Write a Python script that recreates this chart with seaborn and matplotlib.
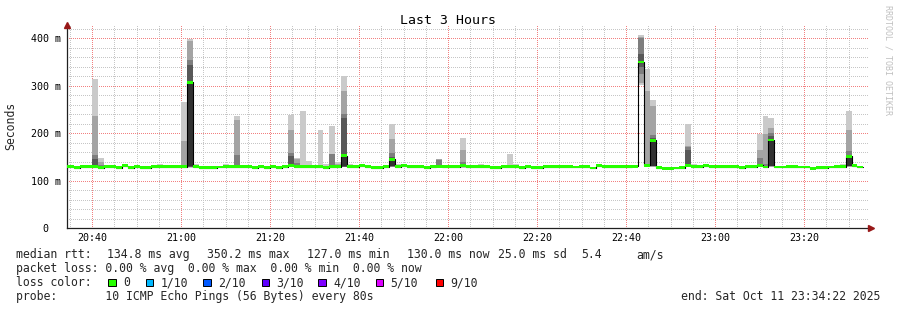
import numpy as np
import pandas as pd
import matplotlib
matplotlib.use("Agg")
import matplotlib.pyplot as plt
from matplotlib.patches import Rectangle
import seaborn as sns

# ---------------- data ----------------
bin_start = "2025-10-11 20:33:20"   # first 80 s bin
bin_seconds = 80
median_ms = [
    130, 130, 128, 130, 130,                                   # 20:33:20 ..
    130, 128, 130, 130, 128, 132, 128, 130, 128, 128,          # 20:40:00 ..
    130, 130, 130, 130, 130, 130, 307, 130, 128, 128,
    128, 129, 130, 130, 130, 130, 130, 128, 130, 128,
    130, 128, 130, 133, 130, 130, 130, 130, 130, 128,          # 21:20:00 ..
    130, 130, 153, 130, 130, 132, 130, 128, 128, 130,
    145, 130, 132, 130, 130, 130, 128, 130, 131, 130,
    130, 130, 132, 130,
    130, 130, 130, 128, 128, 130, 130, 130, 128, 130,          # 22:05:20 ..
    128, 128, 130, 130, 130, 130, 130, 129, 130, 130,
    127, 132, 130, 130, 130, 130, 130, 131, 350, 133,
    185, 128, 126,
    126, 127, 128, 133, 130, 130, 132, 130, 130, 130,          # 22:49:20 ..
    130, 130, 128, 130, 130, 133, 129, 186, 129, 129,
    130, 130, 129, 129, 126, 128, 128, 129, 130, 130,
    152, 132, 129,
]

smoke_time = [
    "20:40:00", "20:41:20", "20:54:40", "21:00:00", "21:01:20", "21:02:40",
    "21:09:20", "21:12:00", "21:24:00", "21:25:20", "21:26:40", "21:28:00",
    "21:30:40", "21:32:00", "21:33:20", "21:34:40", "21:36:00", "21:37:20",
    "21:46:40", "21:48:00", "21:57:20", "22:02:40", "22:06:40", "22:13:20",
    "22:14:40", "22:42:40", "22:44:00", "22:45:20", "22:53:20", "22:54:40",
    "23:09:20", "23:10:40", "23:12:00", "23:28:00", "23:29:20",
]
smoke_pings = [
    [128, 129, 129, 130, 130, 131, 145, 154, 236, 314],
    [128, 129, 129, 130, 130, 130, 131, 133, 140, 148],
    [129, 130, 130, 130, 130, 130, 130, 131, 132, 135],
    [128, 129, 129, 130, 130, 130, 131, 132, 184, 266],
    [128, 129, 129, 130, 131, 307, 343, 354, 394, 398],
    [129, 130, 130, 130, 130, 130, 130, 131, 132, 135],
    [129, 130, 130, 130, 130, 130, 130, 131, 132, 136],
    [128, 129, 129, 130, 130, 131, 132, 154, 229, 236],
    [129, 130, 130, 131, 132, 133, 153, 158, 208, 239],
    [128, 129, 129, 130, 130, 130, 134, 137, 145, 148],
    [129, 130, 130, 130, 130, 130, 131, 132, 134, 248],
    [129, 130, 130, 130, 130, 130, 130, 131, 133, 141],
    [129, 130, 130, 130, 130, 130, 130, 131, 132, 208],
    [128, 129, 129, 129, 129, 129, 130, 130, 131, 135],
    [129, 130, 130, 130, 130, 130, 131, 156, 157, 215],
    [129, 130, 130, 130, 130, 130, 131, 132, 136, 139],
    [129, 130, 130, 130, 131, 153, 233, 241, 290, 320],
    [129, 130, 130, 130, 130, 130, 130, 131, 132, 135],
    [129, 130, 130, 131, 132, 145, 150, 158, 187, 220],
    [129, 130, 130, 130, 130, 130, 130, 131, 132, 135],
    [129, 130, 130, 130, 130, 131, 132, 144, 145, 146],
    [128, 129, 129, 130, 131, 132, 134, 140, 164, 190],
    [129, 130, 130, 130, 130, 130, 130, 131, 132, 135],
    [129, 130, 130, 130, 130, 130, 130, 131, 133, 156],
    [128, 129, 129, 130, 130, 130, 130, 131, 132, 135],
    [302, 306, 325, 340, 348, 350, 368, 400, 403, 407],
    [129, 130, 131, 131, 132, 133, 135, 136, 289, 335],
    [129, 130, 131, 131, 132, 185, 190, 196, 257, 271],
    [129, 130, 130, 131, 132, 133, 164, 172, 173, 219],
    [129, 130, 130, 130, 130, 130, 130, 131, 132, 135],
    [129, 130, 130, 131, 132, 133, 135, 148, 164, 198],
    [128, 129, 129, 129, 129, 129, 131, 135, 198, 236],
    [129, 130, 131, 131, 132, 186, 195, 201, 211, 232],
    [129, 130, 130, 130, 130, 130, 130, 131, 132, 135],
    [129, 130, 131, 131, 132, 152, 155, 162, 206, 247],
]

title = "Last 3 Hours"
x_tick_labels = ["20:40", "21:00", "21:20", "21:40", "22:00", "22:20", "22:40", "23:00", "23:20"]
y_tick_labels = ["0  ", "100 m", "200 m", "300 m", "400 m"]
rtt_items = ["median rtt:", "134.8 ms avg", "350.2 ms max", "127.0 ms min", "130.0 ms now",
             "25.0 ms sd", "5.4", "am/s"]
loss_line = "packet loss: 0.00 % avg  0.00 % max  0.00 % min  0.00 % now"
loss_color_title = "loss color:"
probe_line = "probe:       10 ICMP Echo Pings (56 Bytes) every 80s"
loss_labels = ["0", "1/10", "2/10", "3/10", "4/10", "5/10", "9/10"]
loss_colors = ["#26ff00", "#00b8ff", "#0059ff", "#5e00ff", "#7e00ff", "#dd00ff", "#ff0000"]
smoke_shades = ["#cacaca", "#a4a4a4", "#7e7e7e", "#585858", "#323232"]
end_text = "end: Sat Oct 11 23:34:22 2025"
end_time = "2025-10-11 23:34:22"

# ---------------- setup ----------------
sns.set_style("white")
plt.rcParams["font.family"] = ["DejaVu Sans Mono", "DejaVu Sans"]

W, H = 897, 310
fig = plt.figure(figsize=(W / 100, H / 100), dpi=100)
fig.patch.set_facecolor("white")

def fx(x):
    return x / W

def fy(y):
    return 1 - y / H

YMAX = 428
ax_left, ax_right, ax_bottom = 67, 868, 228.3
ax_top = ax_bottom - YMAX * 0.475
ax = fig.add_axes([fx(ax_left), fy(ax_bottom), (ax_right - ax_left) / W, (ax_bottom - ax_top) / H])

day0 = pd.Timestamp("2025-10-11 20:00:00")
times = pd.date_range(bin_start, periods=len(median_ms), freq=f"{bin_seconds}s")
x_min = (times - day0).total_seconds().to_numpy() / 60.0
bw = bin_seconds / 60.0
t_end = (pd.Timestamp(end_time) - day0).total_seconds() / 60.0
t_start = t_end - 180.0

# grid
ax.set_xlim(t_start, t_end)
ax.set_ylim(0, YMAX)
ax.set_xticks(np.arange(40, 201, 20))
ax.set_xticks(np.arange(35, 214, 5), minor=True)
ax.set_yticks(np.arange(0, 401, 100))
ax.set_yticks(np.arange(0, 421, 20), minor=True)
ax.set_xticklabels(x_tick_labels)
ax.set_yticklabels(y_tick_labels)
ax.grid(which="minor", color="#c6c6c6", linestyle=(0, (1, 2)), linewidth=0.72, antialiased=False)
ax.grid(which="major", color="#f28080", linestyle=(0, (1, 2)), linewidth=0.72, antialiased=False)
ax.set_axisbelow(True)
ax.tick_params(which="both", length=0)
ax.tick_params(axis="x", labelsize=7.2, pad=3.5, colors="#000000")
ax.tick_params(axis="y", labelsize=7.2, pad=4.5, colors="#000000")
for s in ["top", "right"]:
    ax.spines[s].set_visible(False)
for s in ["left", "bottom"]:
    ax.spines[s].set_color("#202020")
    ax.spines[s].set_linewidth(0.9)

# smoke
s_x = [(pd.Timestamp(f"2025-10-11 {t}") - day0).total_seconds() / 60.0 for t in smoke_time]
pings = np.array(smoke_pings, dtype=float)
n = pings.shape[1]
for i in range(n // 2):
    lo = pings[:, i]
    hi = pings[:, n - 1 - i]
    ax.bar(s_x, hi - lo, bottom=lo, width=bw, align="edge",
           color=smoke_shades[i], linewidth=0, zorder=2)

# black median step line
step_df = pd.DataFrame({"t": np.append(x_min, x_min[-1] + bw),
                        "ms": np.append(median_ms, median_ms[-1])})
sns.lineplot(data=step_df, x="t", y="ms", drawstyle="steps-post", color="#000000",
             linewidth=0.8, estimator=None, ax=ax, zorder=3)

# green median (loss 0)
g = 6.0
med = np.array(median_ms, dtype=float)
ax.bar(x_min, np.full(len(med), g), bottom=med - g / 2, width=bw, align="edge",
       color=loss_colors[0], linewidth=0, zorder=4)
ax.set_xlabel("")
ax.set_ylabel("")

# arrows
ax.plot([t_start], [YMAX], marker="^", color="#981818", markersize=4.2, clip_on=False, zorder=6)
ax.plot([t_end + 0.7], [0], marker=">", color="#981818", markersize=4.2, clip_on=False, zorder=6)

# texts
fs = 8.3
fig.text(fx(447.5), fy(24), title, ha="center", va="baseline", fontsize=9.5, color="#000000")
fig.text(fx(10.7), fy(126), "Seconds", rotation=90, ha="center", va="center", fontsize=fs)
fig.text(fx(888), fy(60), "RRDTOOL / TOBI OETIKER", rotation=270, ha="center", va="center",
         fontsize=6.0, color="#c0c0c0")

baselines = [258.3, 272.3, 286.3, 300.3]
rtt_x = [16, 107.3, 207.3, 307.3, 407.3, 498.3, 581.7, 636.7]
for txt, xx in zip(rtt_items, rtt_x):
    fig.text(fx(xx), fy(baselines[0]), txt, ha="left", va="baseline", fontsize=fs)
fig.text(fx(16), fy(baselines[1]), loss_line, ha="left", va="baseline", fontsize=fs)
fig.text(fx(16), fy(baselines[2]), loss_color_title, ha="left", va="baseline", fontsize=fs)
fig.text(fx(16), fy(baselines[3]), probe_line, ha="left", va="baseline", fontsize=fs)

sq_x = [108.3, 145.7, 203.3, 261.7, 318.3, 375.7, 435.7]
for lab, col, xx in zip(loss_labels, loss_colors, sq_x):
    fig.add_artist(Rectangle((fx(xx), fy(285.7)), 7.2 / W, 7.2 / H, transform=fig.transFigure,
                             facecolor=col, edgecolor="#000000", linewidth=0.7))
    fig.text(fx(xx + 14.8), fy(baselines[2]), lab, ha="left", va="baseline", fontsize=fs)

fig.text(fx(880), fy(299.5), end_text, ha="right", va="baseline", fontsize=fs)

fig.savefig("out.png", dpi=100, facecolor="white")
